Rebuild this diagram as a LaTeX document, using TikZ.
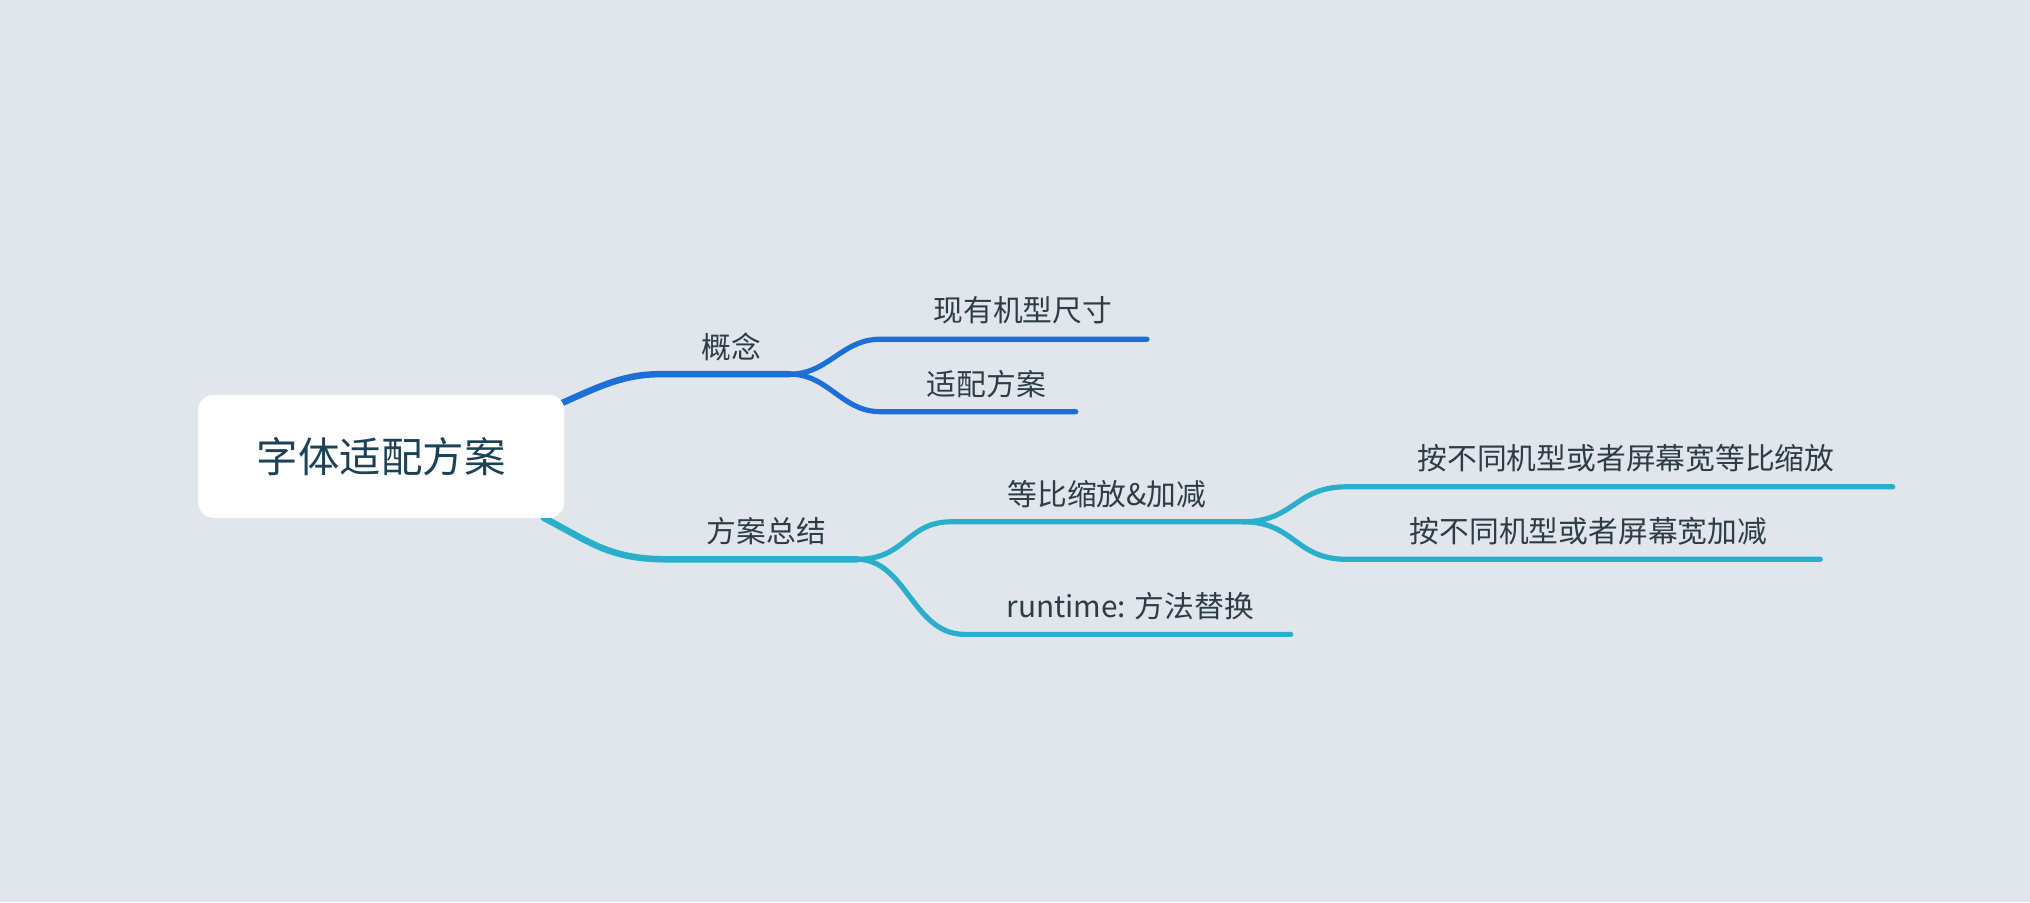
\documentclass[tikz,border=0pt]{standalone}
\usepackage{fontspec}
\setmainfont{Noto Sans CJK SC}
\definecolor{bg}{HTML}{E0E6EB}
\definecolor{blueb}{HTML}{1B6FD6}
\definecolor{tealb}{HTML}{29AECB}
\definecolor{txt}{HTML}{2E3C48}
\definecolor{roottxt}{HTML}{1B4256}
\tikzset{
 lbl/.style={text=txt,font=\fontsize{23}{26}\selectfont,inner sep=0pt},
 br/.style={line width=5pt,line cap=round},
}
\begin{document}
\begin{tikzpicture}[x=1pt,y=-1pt]
\fill[bg] (0,0) rectangle (1568,697);
\useasboundingbox (0,0) rectangle (1568,697);
% coordinates
\coordinate (r1) at (428,314);
\coordinate (a0) at (510,289); \coordinate (a1) at (610,289);
\coordinate (b0) at (680,262); \coordinate (b1) at (886,262);
\coordinate (c0) at (680,318); \coordinate (c1) at (831,318);
\coordinate (r2) at (420,400);
\coordinate (d0) at (515,432); \coordinate (d1) at (662,432);
\coordinate (e0) at (735,403); \coordinate (e1) at (960,403);
\coordinate (f0) at (745,490); \coordinate (f1) at (997,490);
\coordinate (g0) at (1040,376); \coordinate (g1) at (1462,376);
\coordinate (h0) at (1040,432); \coordinate (h1) at (1406,432);
% branches
\draw[br,blueb] (r1) .. controls (460,300) and (480,289) .. (a0) -- (a1);
\draw[br,blueb,line width=4pt] (a1) .. controls (640,289) and (650,262) .. (b0) -- (b1);
\draw[br,blueb,line width=4pt] (a1) .. controls (640,289) and (650,318) .. (c0) -- (c1);
\draw[br,tealb] (r2) .. controls (455,418) and (470,432) .. (d0) -- (d1);
\draw[br,tealb,line width=4pt] (d1) .. controls (700,432) and (700,403) .. (e0) -- (e1);
\draw[br,tealb,line width=4pt] (d1) .. controls (700,432) and (705,490) .. (f0) -- (f1);
\draw[br,tealb,line width=4pt] (e1) .. controls (1000,403) and (1000,376) .. (g0) -- (g1);
\draw[br,tealb,line width=4pt] (e1) .. controls (1000,403) and (1000,432) .. (h0) -- (h1);
% root
\node[fill=white,rounded corners=12pt,minimum width=283pt,minimum height=95pt,inner sep=0pt,text=roottxt,font=\fontsize{32}{36}\selectfont] (root) at (294.5,352.5) {字体适配方案};
% labels
\node[lbl] (la) at (565,268) {概念};
\node[lbl] (lb) at (790,240) {现有机型尺寸};
\node[lbl] (lc) at (762,297) {适配方案};
\node[lbl] (ld) at (592,410) {方案总结};
\node[lbl] (le) at (855,382) {等比缩放\&加减};
\node[lbl] (lf) at (873,468) {runtime: 方法替换};
\node[lbl] (lg) at (1256,354) {按不同机型或者屏幕宽等比缩放};
\node[lbl] (lh) at (1227,410) {按不同机型或者屏幕宽加减};
\end{tikzpicture}
\end{document}
